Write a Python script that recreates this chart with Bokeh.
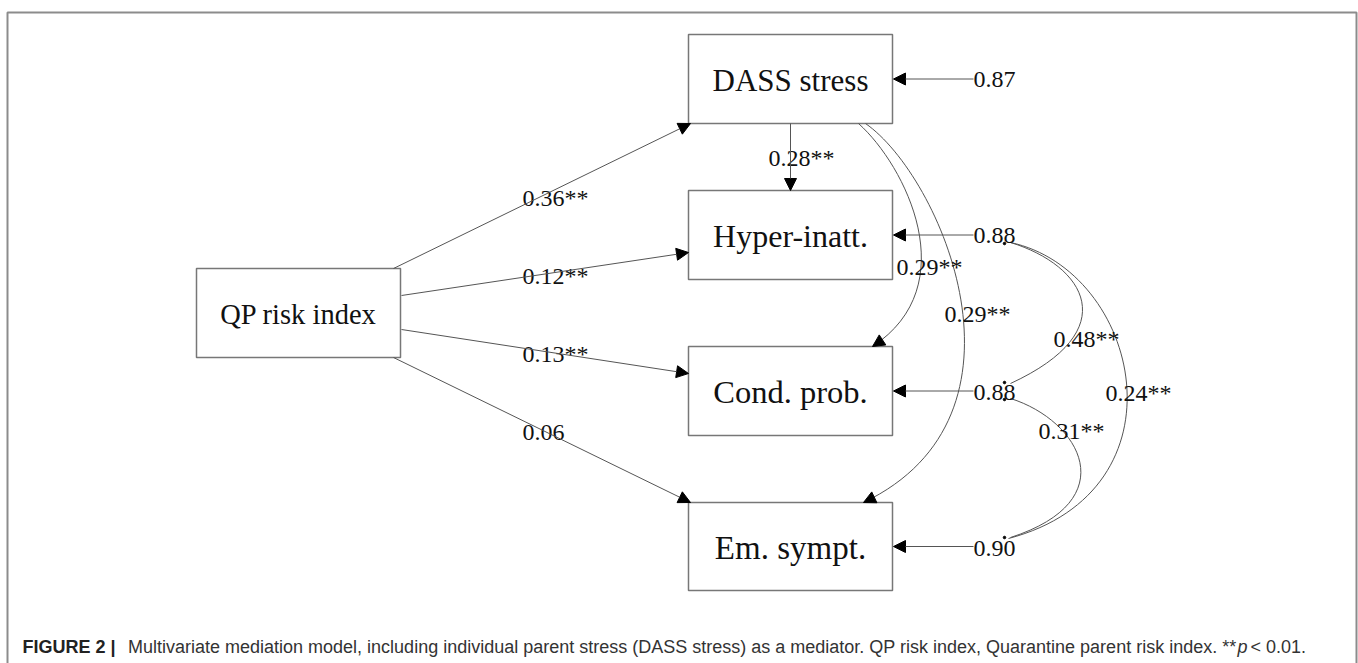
from bokeh.plotting import figure
from bokeh.models import Range1d, Arrow, NormalHead, ColumnDataSource
from bokeh.core.properties import value
from bokeh.embed import file_html
from bokeh.resources import INLINE

# ---------------- data ----------------
nodes = ["QP risk index", "DASS stress", "Hyper-inatt.", "Cond. prob.", "Em. sympt."]
qp_paths = ["0.36**", "0.12**", "0.13**", "0.06"]          # QP -> DASS, Hyper, Cond, Em
dass_paths = ["0.28**", "0.29**", "0.29**"]                 # DASS -> Hyper, Cond, Em
residuals = ["0.87", "0.88", "0.88", "0.90"]                # DASS, Hyper, Cond, Em
covariances = ["0.48**", "0.24**", "0.31**"]                # Hyp~Cond, Hyp~Em, Cond~Em
caption_bold = "FIGURE 2 |"
caption_main = ("Multivariate mediation model, including individual parent stress "
                "(DASS stress) as a mediator. QP risk index, Quarantine parent risk index. **")
caption_p = "p"
caption_end = "< 0.01."

# ---------------- layout (pixel coordinates of the page) ----------------
box_left = [196, 688, 688, 688, 688]
box_right = [400, 892, 892, 892, 892]
box_top = [268, 34, 190, 346, 502]
box_bottom = [357, 123, 279, 435, 590]
box_font = ["28.5px", "31px", "32px", "32.5px", "33px"]

SERIF = value("Liberation Serif")
SANS = value("Liberation Sans")
LINE = "#555555"
W, H = 1358, 663

p = figure(width=W, height=H, x_range=Range1d(0, W), y_range=Range1d(H, 0),
           output_backend="svg", toolbar_location=None, x_axis_location=None,
           y_axis_location=None, min_border=0)
p.grid.visible = False
p.outline_line_color = None
p.background_fill_color = "white"
p.border_fill_color = "white"

# outer frame
p.quad(left=[7], right=[1356], top=[12], bottom=[720], fill_color=None,
       line_color="#8c8c8c", line_width=2)

# boxes
bx = ColumnDataSource(dict(left=box_left, right=box_right, top=box_top, bottom=box_bottom,
                           xc=[(a + b) / 2 for a, b in zip(box_left, box_right)],
                           yc=[(a + b) / 2 + 1 for a, b in zip(box_top, box_bottom)],
                           name=nodes, fs=box_font))
p.quad(left="left", right="right", top="top", bottom="bottom", source=bx,
       fill_color="white", line_color="#777777", line_width=1.5)
p.text(x="xc", y="yc", text="name", source=bx, text_align="center", text_baseline="middle",
       text_font=SERIF, text_font_size="fs", text_color="#111111")


def head():
    return NormalHead(size=12, fill_color="black", line_color="black", line_width=1)


# straight paths from QP risk index
qp_start = [(393, 268), (401, 295), (401, 329), (393, 357)]
qp_end = [(690, 123), (688, 252), (688, 373), (690, 502)]
for (xs, ys), (xe, ye) in zip(qp_start, qp_end):
    p.add_layout(Arrow(end=head(), x_start=xs, y_start=ys, x_end=xe, y_end=ye,
                       line_color=LINE, line_width=1))

# DASS -> Hyper
p.add_layout(Arrow(end=head(), x_start=790, y_start=123, x_end=790, y_end=190,
                   line_color=LINE, line_width=1))

# residual arrows
res_y = [78.5, 234.5, 390.5, 546]
for y in res_y:
    p.add_layout(Arrow(end=head(), x_start=973, y_start=y, x_end=893, y_end=y,
                       line_color=LINE, line_width=1))

# curved DASS -> Cond / Em
curves = [
    ((858, 123), (905, 165), (965, 285), (872, 346)),
    ((865, 123), (940, 175), (1045, 415), (863, 502)),
]
for P0, P1, P2, P3 in curves:
    p.bezier(x0=[P0[0]], y0=[P0[1]], cx0=[P1[0]], cy0=[P1[1]], cx1=[P2[0]], cy1=[P2[1]],
             x1=[P3[0]], y1=[P3[1]], line_color=LINE, line_width=1)
    p.add_layout(Arrow(end=head(), x_start=P2[0], y_start=P2[1], x_end=P3[0], y_end=P3[1],
                       line_alpha=0))

# covariance curves (no heads)
cov_curves = [
    ((1010, 242), (1085, 265), (1125, 330), (1010, 383)),
    ((1010, 242), (1140, 270), (1190, 490), (1008, 538)),
    ((1010, 398), (1080, 420), (1125, 500), (1010, 537)),
]
for P0, P1, P2, P3 in cov_curves:
    p.bezier(x0=[P0[0]], y0=[P0[1]], cx0=[P1[0]], cy0=[P1[1]], cx1=[P2[0]], cy1=[P2[1]],
             x1=[P3[0]], y1=[P3[1]], line_color=LINE, line_width=1)
p.scatter(x=[1004, 1004, 1004, 1004], y=[243, 382, 399, 537], size=2.5, color="black")

# edge labels
lab = ColumnDataSource(dict(
    x=[522, 522, 522, 522, 768, 896, 944, 973, 973, 973, 973, 1053, 1105, 1038],
    y=[197, 275, 353, 432, 157, 266, 313, 79, 235, 392, 548, 338, 392, 430],
    t=qp_paths + dass_paths + residuals + covariances))
p.text(x="x", y="y", text="t", source=lab, text_align="left", text_baseline="middle",
       text_font=SERIF, text_font_size="24px", text_color="#111111")

# caption
CAP = "18px"
p.text(x=[22], y=[646], text=[caption_bold], text_align="left", text_baseline="middle",
       text_font=SANS, text_font_size=CAP, text_font_style="bold", text_color="#222222")
p.text(x=[1236], y=[646], text=[caption_main], text_align="right", text_baseline="middle",
       text_font=SANS, text_font_size=CAP, text_color="#333333")
p.text(x=[1237], y=[646], text=[caption_p], text_align="left", text_baseline="middle",
       text_font=SANS, text_font_size=CAP, text_font_style="italic", text_color="#333333")
p.text(x=[1250], y=[646], text=[caption_end], text_align="left", text_baseline="middle",
       text_font=SANS, text_font_size=CAP, text_color="#333333")

open("out.html", "w").write(file_html(p, INLINE))
